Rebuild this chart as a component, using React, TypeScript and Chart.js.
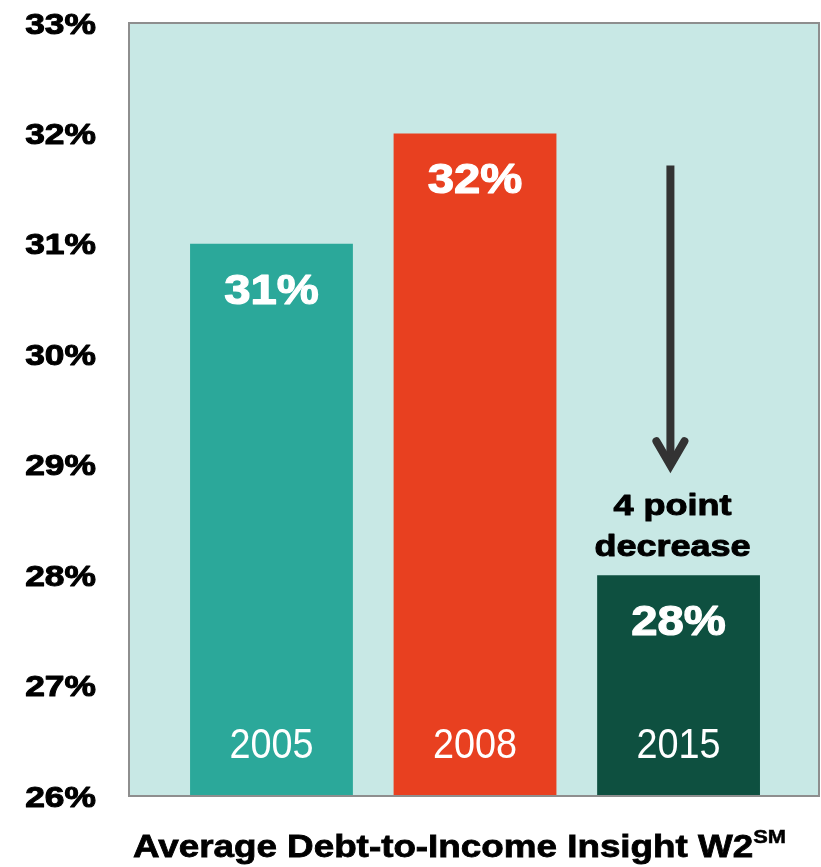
import React, { useEffect, useRef } from 'react';
import { Chart, registerables } from 'chart.js';

Chart.register(...registerables);

// ---- data ----
const categories = ['2005', '2008', '2015'];
const values = [31, 32, 28];
const barColors = ['#2BA89A', '#E84020', '#0E5040'];
const yTickValues = [26, 27, 28, 29, 30, 31, 32, 33];
const yMin = 26;
const yMax = 33;
const xMin = -0.7;
const xMax = 2.69;

// annotation (data coordinates)
const arrowX = 1.96;
const arrowFrom = 31.71;
const arrowTo = 28.95;
const noteLines = ['4 point', 'decrease'];
const noteX = 1.97;
const noteYs = [28.545, 28.17];

const titleText = 'Average Debt-to-Income Insight W2';
const titleSup = 'SM';

const BG = '#C8E8E5';
const BORDER = '#8E8E8E';

function stretchedText(
  ctx: CanvasRenderingContext2D,
  text: string,
  x: number,
  y: number,
  sx: number,
  align: CanvasTextAlign,
  strokeW = 0
) {
  ctx.save();
  ctx.translate(x, y);
  ctx.scale(sx, 1);
  ctx.textAlign = align;
  ctx.textBaseline = 'alphabetic';
  ctx.fillText(text, 0, 0);
  if (strokeW > 0) {
    ctx.strokeStyle = ctx.fillStyle as string;
    ctx.lineWidth = strokeW;
    ctx.lineJoin = 'round';
    ctx.strokeText(text, 0, 0);
  }
  ctx.restore();
}

const drawPlugin = {
  id: 'drawPlugin',
  beforeDatasetsDraw(chart: any) {
    const { ctx, chartArea: a } = chart;
    ctx.save();
    ctx.fillStyle = BG;
    ctx.fillRect(a.left, a.top, a.right - a.left, a.bottom - a.top);
    ctx.restore();
  },
  afterDraw(chart: any) {
    const { ctx, chartArea: a } = chart;
    const xs = chart.scales.x;
    const ys = chart.scales.y;

    // border
    ctx.save();
    ctx.strokeStyle = BORDER;
    ctx.lineWidth = 2;
    ctx.strokeRect(a.left, a.top, a.right - a.left, a.bottom - a.top);
    ctx.restore();

    // y tick labels
    ctx.save();
    ctx.fillStyle = '#000';
    ctx.font = 'bold 29px "Liberation Sans", Arial, sans-serif';
    ys.ticks.forEach((t: any) => {
      const py = ys.getPixelForValue(t.value);
      stretchedText(ctx, `${t.value}%`, 96, py + 10.5, 1.22, 'right', 1);
    });
    ctx.restore();

    // bar labels
    const meta = chart.getDatasetMeta(0);
    const basePx = ys.getPixelForValue(yMin);
    meta.data.forEach((bar: any, i: number) => {
      ctx.save();
      ctx.fillStyle = '#FFFFFF';
      ctx.font = 'bold 43px "Liberation Sans", Arial, sans-serif';
      stretchedText(ctx, `${values[i]}%`, bar.x, bar.y + 60, 1.1, 'center', 1.2);
      ctx.font = '42px "Liberation Sans", Arial, sans-serif';
      stretchedText(ctx, categories[i], bar.x, basePx - 38, 0.9, 'center');
      ctx.restore();
    });

    // arrow
    const ax = xs.getPixelForValue(arrowX);
    const ay1 = ys.getPixelForValue(arrowFrom);
    const ay2 = ys.getPixelForValue(arrowTo);
    ctx.save();
    ctx.strokeStyle = '#333333';
    ctx.lineWidth = 8;
    ctx.lineCap = 'butt';
    ctx.beginPath();
    ctx.moveTo(ax, ay1);
    ctx.lineTo(ax, ay2 - 6);
    ctx.stroke();
    ctx.lineCap = 'round';
    ctx.lineJoin = 'miter';
    ctx.beginPath();
    ctx.moveTo(ax - 14, ay2 - 29);
    ctx.lineTo(ax, ay2 - 5);
    ctx.lineTo(ax + 14, ay2 - 29);
    ctx.stroke();
    ctx.restore();

    // note
    ctx.save();
    ctx.fillStyle = '#000';
    ctx.font = 'bold 30px "Liberation Sans", Arial, sans-serif';
    const nx = xs.getPixelForValue(noteX);
    noteLines.forEach((line, i) => {
      stretchedText(ctx, line, nx, ys.getPixelForValue(noteYs[i]), 1.2, 'center', 1);
    });
    ctx.restore();
  },
};

export default function App() {
  const canvasRef = useRef<HTMLCanvasElement | null>(null);

  useEffect(() => {
    if (!canvasRef.current) return;
    const chart = new Chart(canvasRef.current, {
      type: 'bar',
      data: {
        datasets: [
          {
            data: values.map((v, i) => ({ x: i, y: v })),
            backgroundColor: barColors,
            borderWidth: 0,
            barPercentage: 1,
            categoryPercentage: 0.8,
          },
        ],
      },
      options: {
        animation: false,
        responsive: false,
        maintainAspectRatio: false,
        events: [],
        layout: { padding: { left: 129, top: 23, right: 2, bottom: 71 } },
        plugins: {
          legend: { display: false },
          tooltip: { enabled: false },
          title: { display: false },
        },
        scales: {
          x: {
            type: 'linear',
            min: xMin,
            max: xMax,
            offset: false,
            bounds: 'data',
            grace: 0,
            display: false,
            grid: { offset: false },
            afterBuildTicks: (scale: any) => {
              scale.ticks = categories.map((_, i) => ({ value: i }));
            },
          },
          y: {
            type: 'linear',
            min: yMin,
            max: yMax,
            beginAtZero: false,
            display: true,
            afterBuildTicks: (scale: any) => {
              scale.ticks = yTickValues.map((v) => ({ value: v }));
            },
            ticks: { display: false },
            grid: { display: false, drawTicks: false },
            border: { display: false },
          },
        },
      },
      plugins: [drawPlugin],
    } as any);
    return () => chart.destroy();
  }, []);

  return (
    <div style={{ position: 'absolute', left: 0, top: 0, width: 821, height: 867, background: '#fff', overflow: 'hidden' }}>
      <canvas ref={canvasRef} width={821} height={867} style={{ position: 'absolute', left: 0, top: 0, width: 821, height: 867 }} />
      <div
        style={{
          position: 'absolute',
          left: 133,
          top: 830,
          whiteSpace: 'nowrap',
          fontFamily: '"Liberation Sans", Arial, sans-serif',
          fontWeight: 'bold',
          fontSize: 32,
          lineHeight: '32px',
          color: '#000',
          WebkitTextStroke: '0.8px #000',
          transform: 'scaleX(1.15)',
          transformOrigin: 'left top',
        }}
      >
        {titleText}
        <span style={{ fontSize: 19, position: 'relative', top: -14, WebkitTextStroke: '0.5px #000' }}>{titleSup}</span>
      </div>
    </div>
  );
}
